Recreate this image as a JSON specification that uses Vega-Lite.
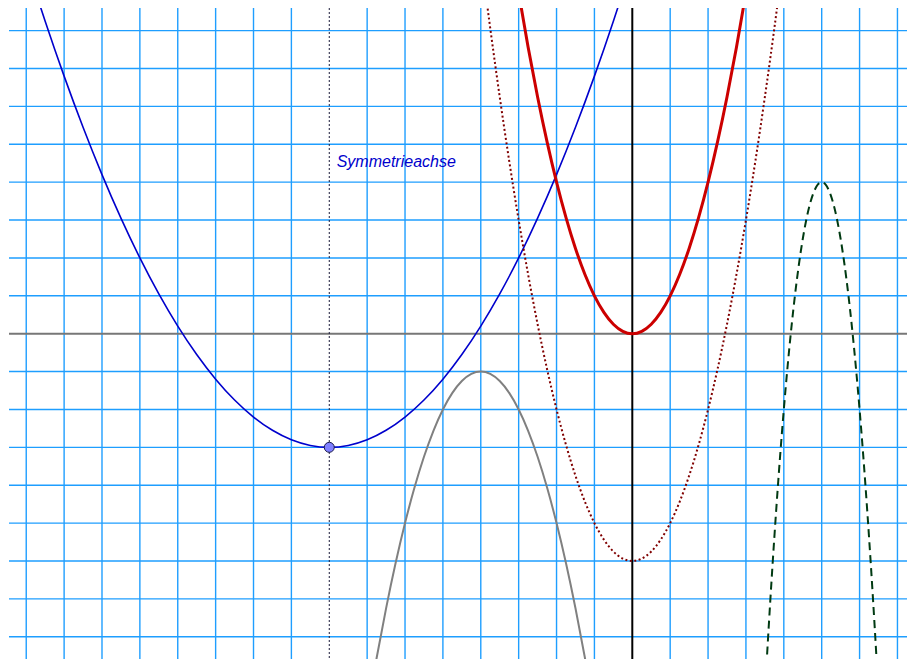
{
  "$schema": "https://vega.github.io/schema/vega-lite/v6.json",
  "width": 898,
  "height": 651,
  "padding": {"left": 9, "top": 8, "right": 0, "bottom": 0},
  "autosize": {"type": "none"},
  "background": "white",
  "config": {
    "view": {"stroke": null}
  },
  "datasets": {
    "red": [
      {"x": -3, "y": 9}, {"x": -2.75, "y": 7.5625}, {"x": -2.5, "y": 6.25}, {"x": -2.25, "y": 5.0625}, {"x": -2, "y": 4},
      {"x": -1.75, "y": 3.0625}, {"x": -1.5, "y": 2.25}, {"x": -1.25, "y": 1.5625}, {"x": -1, "y": 1}, {"x": -0.75, "y": 0.5625},
      {"x": -0.5, "y": 0.25}, {"x": -0.25, "y": 0.0625}, {"x": 0, "y": 0}, {"x": 0.25, "y": 0.0625}, {"x": 0.5, "y": 0.25},
      {"x": 0.75, "y": 0.5625}, {"x": 1, "y": 1}, {"x": 1.25, "y": 1.5625}, {"x": 1.5, "y": 2.25}, {"x": 1.75, "y": 3.0625},
      {"x": 2, "y": 4}, {"x": 2.25, "y": 5.0625}, {"x": 2.5, "y": 6.25}, {"x": 2.75, "y": 7.5625}, {"x": 3, "y": 9}
    ],
    "dotted": [
      {"x": -4, "y": 10}, {"x": -3.75, "y": 8.0625}, {"x": -3.5, "y": 6.25}, {"x": -3.25, "y": 4.5625}, {"x": -3, "y": 3},
      {"x": -2.75, "y": 1.5625}, {"x": -2.5, "y": 0.25}, {"x": -2.25, "y": -0.9375}, {"x": -2, "y": -2}, {"x": -1.75, "y": -2.9375},
      {"x": -1.5, "y": -3.75}, {"x": -1.25, "y": -4.4375}, {"x": -1, "y": -5}, {"x": -0.75, "y": -5.4375}, {"x": -0.5, "y": -5.75},
      {"x": -0.25, "y": -5.9375}, {"x": 0, "y": -6}, {"x": 0.25, "y": -5.9375}, {"x": 0.5, "y": -5.75}, {"x": 0.75, "y": -5.4375},
      {"x": 1, "y": -5}, {"x": 1.25, "y": -4.4375}, {"x": 1.5, "y": -3.75}, {"x": 1.75, "y": -2.9375}, {"x": 2, "y": -2},
      {"x": 2.25, "y": -0.9375}, {"x": 2.5, "y": 0.25}, {"x": 2.75, "y": 1.5625}, {"x": 3, "y": 3}, {"x": 3.25, "y": 4.5625},
      {"x": 3.5, "y": 6.25}, {"x": 3.75, "y": 8.0625}, {"x": 4, "y": 10}
    ],
    "blue": [
      {"x": -16.5, "y": 11.45}, {"x": -16, "y": 9.8}, {"x": -15.5, "y": 8.25}, {"x": -15, "y": 6.8}, {"x": -14.5, "y": 5.45},
      {"x": -14, "y": 4.2}, {"x": -13.5, "y": 3.05}, {"x": -13, "y": 2}, {"x": -12.5, "y": 1.05}, {"x": -12, "y": 0.2},
      {"x": -11.5, "y": -0.55}, {"x": -11, "y": -1.2}, {"x": -10.5, "y": -1.75}, {"x": -10, "y": -2.2}, {"x": -9.5, "y": -2.55},
      {"x": -9, "y": -2.8}, {"x": -8.5, "y": -2.95}, {"x": -8, "y": -3}, {"x": -7.5, "y": -2.95}, {"x": -7, "y": -2.8},
      {"x": -6.5, "y": -2.55}, {"x": -6, "y": -2.2}, {"x": -5.5, "y": -1.75}, {"x": -5, "y": -1.2}, {"x": -4.5, "y": -0.55},
      {"x": -4, "y": 0.2}, {"x": -3.5, "y": 1.05}, {"x": -3, "y": 2}, {"x": -2.5, "y": 3.05}, {"x": -2, "y": 4.2},
      {"x": -1.5, "y": 5.45}, {"x": -1, "y": 6.8}, {"x": -0.5, "y": 8.25}, {"x": 0, "y": 9.8}, {"x": 0.5, "y": 11.45}
    ],
    "gray": [
      {"x": -7, "y": -10}, {"x": -6.75, "y": -8.5625}, {"x": -6.5, "y": -7.25}, {"x": -6.25, "y": -6.0625}, {"x": -6, "y": -5},
      {"x": -5.75, "y": -4.0625}, {"x": -5.5, "y": -3.25}, {"x": -5.25, "y": -2.5625}, {"x": -5, "y": -2}, {"x": -4.75, "y": -1.5625},
      {"x": -4.5, "y": -1.25}, {"x": -4.25, "y": -1.0625}, {"x": -4, "y": -1}, {"x": -3.75, "y": -1.0625}, {"x": -3.5, "y": -1.25},
      {"x": -3.25, "y": -1.5625}, {"x": -3, "y": -2}, {"x": -2.75, "y": -2.5625}, {"x": -2.5, "y": -3.25}, {"x": -2.25, "y": -4.0625},
      {"x": -2, "y": -5}, {"x": -1.75, "y": -6.0625}, {"x": -1.5, "y": -7.25}, {"x": -1.25, "y": -8.5625}, {"x": -1, "y": -10}
    ],
    "green": [
      {"x": 3.5, "y": -9.5}, {"x": 3.6, "y": -7.76}, {"x": 3.7, "y": -6.14}, {"x": 3.8, "y": -4.64}, {"x": 3.9, "y": -3.26},
      {"x": 4, "y": -2}, {"x": 4.1, "y": -0.86}, {"x": 4.2, "y": 0.16}, {"x": 4.3, "y": 1.06}, {"x": 4.4, "y": 1.84},
      {"x": 4.5, "y": 2.5}, {"x": 4.6, "y": 3.04}, {"x": 4.7, "y": 3.46}, {"x": 4.8, "y": 3.76}, {"x": 4.9, "y": 3.94},
      {"x": 5, "y": 4}, {"x": 5.1, "y": 3.94}, {"x": 5.2, "y": 3.76}, {"x": 5.3, "y": 3.46}, {"x": 5.4, "y": 3.04},
      {"x": 5.5, "y": 2.5}, {"x": 5.6, "y": 1.84}, {"x": 5.7, "y": 1.06}, {"x": 5.8, "y": 0.16}, {"x": 5.9, "y": -0.86},
      {"x": 6, "y": -2}, {"x": 6.1, "y": -3.26}, {"x": 6.2, "y": -4.64}, {"x": 6.3, "y": -6.14}, {"x": 6.4, "y": -7.76}, {"x": 6.5, "y": -9.5}
    ],
    "vertex": [{"x": -8, "y": -3}],
    "label": [{"x": -7.804, "y": 4.409, "text": "Symmetrieachse"}],
    "vgrid": [
      {"x": -16}, {"x": -15}, {"x": -14}, {"x": -13}, {"x": -12}, {"x": -11}, {"x": -10}, {"x": -9}, {"x": -7}, {"x": -6}, {"x": -5},
      {"x": -4}, {"x": -3}, {"x": -2}, {"x": -1}, {"x": 1}, {"x": 2}, {"x": 3}, {"x": 4}, {"x": 5}, {"x": 6}, {"x": 7}
    ],
    "hgrid": [
      {"y": -8}, {"y": -7}, {"y": -6}, {"y": -5}, {"y": -4}, {"y": -3}, {"y": -2}, {"y": -1},
      {"y": 1}, {"y": 2}, {"y": 3}, {"y": 4}, {"y": 5}, {"y": 6}, {"y": 7}, {"y": 8}
    ],
    "vaxis": [{"x": 0}],
    "haxis": [{"y": 0}],
    "sym": [{"x": -8}]
  },
  "layer": [
    {
      "data": {"name": "vgrid"},
      "mark": {"type": "rule", "color": "#1e9eff", "strokeWidth": 1.4},
      "encoding": {"x": {"field": "x", "type": "quantitative", "scale": {"domain": [-16.455, 7.252], "nice": false, "zero": false}, "axis": null}}
    },
    {
      "data": {"name": "hgrid"},
      "mark": {"type": "rule", "color": "#1e9eff", "strokeWidth": 1.4},
      "encoding": {"y": {"field": "y", "type": "quantitative", "scale": {"domain": [-8.588, 8.598], "nice": false, "zero": false}, "axis": null}}
    },
    {
      "data": {"name": "haxis"},
      "mark": {"type": "rule", "color": "#777777", "strokeWidth": 2},
      "encoding": {"y": {"field": "y", "type": "quantitative", "scale": {"domain": [-8.588, 8.598], "nice": false, "zero": false}, "axis": null}}
    },
    {
      "data": {"name": "vaxis"},
      "mark": {"type": "rule", "color": "#000000", "strokeWidth": 2},
      "encoding": {"x": {"field": "x", "type": "quantitative", "scale": {"domain": [-16.455, 7.252], "nice": false, "zero": false}, "axis": null}}
    },
    {
      "data": {"name": "sym"},
      "mark": {"type": "rule", "color": "#1a1a3a", "strokeWidth": 1, "strokeDash": [2, 2]},
      "encoding": {"x": {"field": "x", "type": "quantitative", "scale": {"domain": [-16.455, 7.252], "nice": false, "zero": false}, "axis": null}}
    },
    {
      "data": {"name": "blue"},
      "mark": {"type": "line", "color": "#0000cc", "strokeWidth": 1.6, "interpolate": "monotone", "clip": true},
      "encoding": {
        "x": {"field": "x", "type": "quantitative", "scale": {"domain": [-16.455, 7.252], "nice": false, "zero": false}, "axis": null},
        "y": {"field": "y", "type": "quantitative", "scale": {"domain": [-8.588, 8.598], "nice": false, "zero": false}, "axis": null}
      }
    },
    {
      "data": {"name": "gray"},
      "mark": {"type": "line", "color": "#808080", "strokeWidth": 2, "interpolate": "monotone", "clip": true},
      "encoding": {
        "x": {"field": "x", "type": "quantitative", "scale": {"domain": [-16.455, 7.252], "nice": false, "zero": false}, "axis": null},
        "y": {"field": "y", "type": "quantitative", "scale": {"domain": [-8.588, 8.598], "nice": false, "zero": false}, "axis": null}
      }
    },
    {
      "data": {"name": "dotted"},
      "mark": {"type": "line", "color": "#800000", "strokeWidth": 2, "strokeDash": [2, 2.5], "interpolate": "monotone", "clip": true},
      "encoding": {
        "x": {"field": "x", "type": "quantitative", "scale": {"domain": [-16.455, 7.252], "nice": false, "zero": false}, "axis": null},
        "y": {"field": "y", "type": "quantitative", "scale": {"domain": [-8.588, 8.598], "nice": false, "zero": false}, "axis": null}
      }
    },
    {
      "data": {"name": "green"},
      "mark": {"type": "line", "color": "#003a12", "strokeWidth": 2, "strokeDash": [8, 5], "interpolate": "monotone", "clip": true},
      "encoding": {
        "x": {"field": "x", "type": "quantitative", "scale": {"domain": [-16.455, 7.252], "nice": false, "zero": false}, "axis": null},
        "y": {"field": "y", "type": "quantitative", "scale": {"domain": [-8.588, 8.598], "nice": false, "zero": false}, "axis": null}
      }
    },
    {
      "data": {"name": "red"},
      "mark": {"type": "line", "color": "#cc0000", "strokeWidth": 3, "interpolate": "monotone", "clip": true},
      "encoding": {
        "x": {"field": "x", "type": "quantitative", "scale": {"domain": [-16.455, 7.252], "nice": false, "zero": false}, "axis": null},
        "y": {"field": "y", "type": "quantitative", "scale": {"domain": [-8.588, 8.598], "nice": false, "zero": false}, "axis": null}
      }
    },
    {
      "data": {"name": "vertex"},
      "mark": {"type": "circle", "fill": "#8080ff", "stroke": "#1a1a4d", "strokeWidth": 1, "size": 100, "opacity": 1, "fillOpacity": 1},
      "encoding": {
        "x": {"field": "x", "type": "quantitative", "scale": {"domain": [-16.455, 7.252], "nice": false, "zero": false}, "axis": null},
        "y": {"field": "y", "type": "quantitative", "scale": {"domain": [-8.588, 8.598], "nice": false, "zero": false}, "axis": null}
      }
    },
    {
      "data": {"name": "label"},
      "mark": {"type": "text", "align": "left", "baseline": "alphabetic", "font": "Liberation Sans", "fontStyle": "italic", "fontSize": 16, "color": "#0000cc"},
      "encoding": {
        "x": {"field": "x", "type": "quantitative", "scale": {"domain": [-16.455, 7.252], "nice": false, "zero": false}, "axis": null},
        "y": {"field": "y", "type": "quantitative", "scale": {"domain": [-8.588, 8.598], "nice": false, "zero": false}, "axis": null},
        "text": {"field": "text", "type": "nominal"}
      }
    }
  ]
}
